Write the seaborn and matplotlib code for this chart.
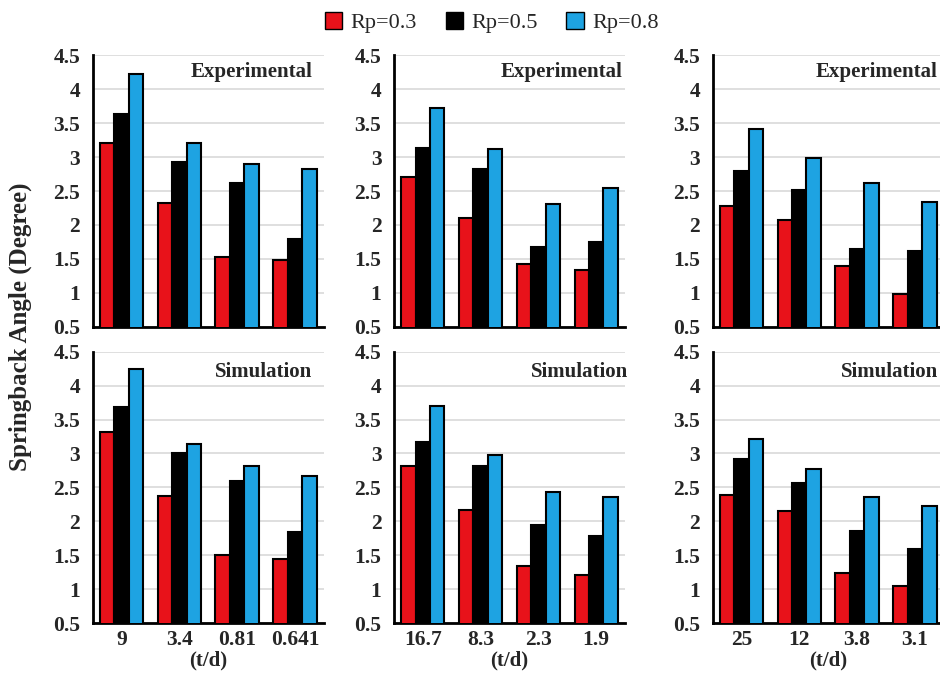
import pandas as pd
import seaborn as sns
import matplotlib.pyplot as plt
from matplotlib.patches import Patch

# series / categories
rp_labels = ['Rp=0.3', 'Rp=0.5', 'Rp=0.8']
td_col1 = ['9', '3.4', '0.81', '0.641']
td_col2 = ['16.7', '8.3', '2.3', '1.9']
td_col3 = ['25', '12', '3.8', '3.1']

# experimental springback angle (degree), one list per Rp
exp_col1 = [[3.20, 2.32, 1.53, 1.49], [3.63, 2.92, 2.62, 1.80], [4.22, 3.21, 2.90, 2.82]]
exp_col2 = [[2.70, 2.10, 1.42, 1.33], [3.13, 2.82, 1.67, 1.75], [3.72, 3.12, 2.31, 2.54]]
exp_col3 = [[2.28, 2.08, 1.40, 0.99], [2.80, 2.51, 1.64, 1.61], [3.41, 2.98, 2.62, 2.34]]

# simulation springback angle (degree)
sim_col1 = [[3.31, 2.37, 1.50, 1.44], [3.69, 3.00, 2.59, 1.84], [4.24, 3.14, 2.81, 2.67]]
sim_col2 = [[2.81, 2.17, 1.35, 1.21], [3.17, 2.81, 1.95, 1.79], [3.70, 2.98, 2.44, 2.36]]
sim_col3 = [[2.39, 2.15, 1.24, 1.05], [2.92, 2.56, 1.86, 1.60], [3.21, 2.77, 2.36, 2.23]]

colors = ['#e8121a', '#000000', '#1ea3e2']
serif = 'Liberation Serif'


def make_df(td, vals):
    rows = []
    for rp, series in zip(rp_labels, vals):
        for t, v in zip(td, series):
            rows.append({'td': t, 'angle': v, 'Rp': rp})
    return pd.DataFrame(rows)


sns.set_style('white')
plt.rcParams['font.family'] = [serif, 'DejaVu Serif']

fig = plt.figure(figsize=(9.4, 6.81), dpi=100)

lefts = [0.0985, 0.419, 0.758]
width = 0.246
bottoms = [0.520, 0.0847]
height = 0.399

panels = [
    (0, 0, td_col1, exp_col1, 'Experimental'),
    (0, 1, td_col2, exp_col2, 'Experimental'),
    (0, 2, td_col3, exp_col3, 'Experimental'),
    (1, 0, td_col1, sim_col1, 'Simulation'),
    (1, 1, td_col2, sim_col2, 'Simulation'),
    (1, 2, td_col3, sim_col3, 'Simulation'),
]
# where the panel captions sit (axes fraction, right-aligned)
label_x = {(0, 0): 0.95, (0, 1): 0.99, (0, 2): 0.975,
           (1, 0): 0.95, (1, 1): 1.015, (1, 2): 0.975}
label_y = [0.939, 0.926]

for r, c, td, vals, title in panels:
    ax = fig.add_axes([lefts[c], bottoms[r], width, height])
    df = make_df(td, vals)
    sns.barplot(data=df, x='td', y='angle', hue='Rp', order=td, hue_order=rp_labels,
                palette=colors, edgecolor='black', linewidth=1.5, width=0.75,
                saturation=1, legend=False, ax=ax, zorder=3)
    ax.set_ylim(0.5, 4.5)
    ax.set_xlim(-0.5, 3.5)
    ax.set_yticks([0.5, 1, 1.5, 2, 2.5, 3, 3.5, 4, 4.5])
    ax.set_yticklabels(['0.5', '1', '1.5', '2', '2.5', '3', '3.5', '4', '4.5'],
                       fontsize=15.5, fontweight='bold', family=serif)
    ax.grid(axis='y', color='#d9d9d9', linewidth=1.2, zorder=0)
    ax.set_axisbelow(True)
    sns.despine(ax=ax)
    ax.spines['left'].set_linewidth(2)
    ax.spines['bottom'].set_linewidth(2)
    ax.spines['left'].set_color('black')
    ax.spines['bottom'].set_color('black')
    ax.tick_params(axis='y', length=0, pad=9)
    ax.tick_params(axis='x', length=0, pad=5)
    ax.set_ylabel('')
    if r == 0:
        ax.set_xticklabels([])
        ax.set_xlabel('')
    else:
        ax.set_xticks(range(len(td)))
        ax.set_xticklabels(td, fontsize=15.5, fontweight='bold', family=serif)
        ax.set_xlabel('(t/d)', fontsize=15, fontweight='bold', family=serif, labelpad=0)
    ax.text(label_x[(r, c)], label_y[r], title, transform=ax.transAxes,
            ha='right', va='center', fontsize=15, fontweight='bold', family=serif,
            bbox=dict(facecolor='white', edgecolor='none', pad=1), zorder=4,
            clip_on=False)

fig.text(0.022, 0.52, 'Springback Angle (Degree)', rotation=90, ha='center', va='center',
         fontsize=18, fontweight='bold', family=serif)

handles = [Patch(facecolor=col, edgecolor='black', linewidth=1) for col in colors]
fig.legend(handles, rp_labels, loc='upper center', bbox_to_anchor=(0.523, 1.012), ncol=3,
           frameon=False, prop={'family': serif, 'size': 16},
           handlelength=0.8, handleheight=0.8, handletextpad=0.35, columnspacing=1.3)

fig.savefig('out.png', dpi=100)
